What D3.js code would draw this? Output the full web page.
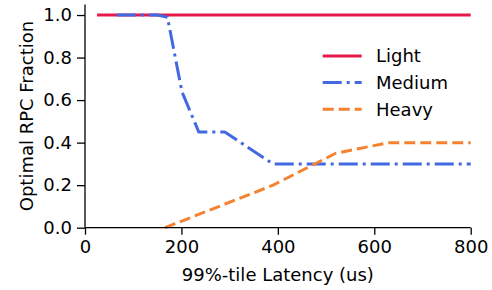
<!DOCTYPE html>
<html>
<head>
<meta charset="utf-8">
<script src="https://cdn.jsdelivr.net/npm/d3@7"></script>
<style>
  body { margin: 0; background: #fff; }
  text { font-family: "DejaVu Sans", sans-serif; fill: #000; }
</style>
</head>
<body>
<svg id="chart" width="492" height="290"></svg>
<script>
// latency (us) vs optimal RPC fraction
var lightX = [25, 800];
var lightY = [1.0, 1.0];
var mediumX = [66, 150, 171, 201, 236, 290, 390, 800];
var mediumY = [1.0, 1.0, 0.99, 0.64, 0.45, 0.45, 0.30, 0.30];
var heavyX = [166, 390, 520, 630, 800];
var heavyY = [0.0, 0.2, 0.35, 0.40, 0.40];
var xTicks = [0, 200, 400, 600, 800];
var yTicks = [0.0, 0.2, 0.4, 0.6, 0.8, 1.0];

var series = [
    { name: "Light", xs: lightX, ys: lightY, color: "#e6194b", dash: null },
    { name: "Medium", xs: mediumX, ys: mediumY, color: "#4169e1", dash: "19,5,3,5" },
    { name: "Heavy", xs: heavyX, ys: heavyY, color: "#f58231", dash: "11,5" }
];

var margin = { left: 85, right: 21.3, top: 4.4, bottom: 62.3 };
var width = 492, height = 290;
var svg = d3.select("#chart");

var x = d3.scaleLinear().domain([0, 800]).range([margin.left, width - margin.right]);
var y = d3.scaleLinear().domain([0, 1.05]).range([height - margin.bottom, margin.top]);

var fontSize = 18;

// lines first
var line = d3.line().x(d => x(d[0])).y(d => y(d[1]));
var gLines = svg.append("g");
series.forEach(s => {
    gLines.append("path")
        .datum(d3.zip(s.xs, s.ys))
        .attr("d", line)
        .attr("fill", "none")
        .attr("stroke", s.color)
        .attr("stroke-width", 3)
        .attr("stroke-dasharray", s.dash)
        .attr("stroke-linejoin", "round");
});

// axes (left + bottom spines only)
var xAxis = svg.append("g")
    .attr("transform", `translate(0,${y(0)})`)
    .call(d3.axisBottom(x).tickValues(xTicks).tickFormat(d3.format("d")).tickSize(7).tickPadding(6));
var yAxis = svg.append("g")
    .attr("transform", `translate(${x(0)},0)`)
    .call(d3.axisLeft(y).tickValues(yTicks).tickFormat(d3.format(".1f")).tickSize(8).tickPadding(5));

[xAxis, yAxis].forEach(a => {
    a.selectAll("path.domain").attr("stroke", "#000").attr("stroke-width", 1.3);
    a.selectAll(".tick line").attr("stroke", "#000").attr("stroke-width", 1.3);
    a.selectAll(".tick text")
        .attr("font-family", "DejaVu Sans")
        .attr("font-size", fontSize)
        .attr("fill", "#000");
});
// remove outer tick caps on domain paths
xAxis.select("path.domain").attr("d", `M${x(0)},0H${x(800)}`);
yAxis.select("path.domain").attr("d", `M0,${y(0)}V${y(1.05)}`);

// axis labels
svg.append("text")
    .attr("x", (x(0) + x(800)) / 2)
    .attr("y", 281)
    .attr("text-anchor", "middle")
    .attr("font-size", fontSize)
    .text("99%-tile Latency (us)");

svg.append("text")
    .attr("transform", `translate(33,${(y(0) + y(1.05)) / 2}) rotate(-90)`)
    .attr("text-anchor", "middle")
    .attr("font-size", fontSize)
    .text("Optimal RPC Fraction");

// legend, no frame
var legend = svg.append("g");
series.forEach((s, i) => {
    var ly = 56 + i * 26.6;
    legend.append("line")
        .attr("x1", 322.7).attr("x2", 361.7)
        .attr("y1", ly).attr("y2", ly)
        .attr("stroke", s.color)
        .attr("stroke-width", 3)
        .attr("stroke-dasharray", s.dash);
    legend.append("text")
        .attr("x", 376)
        .attr("y", ly)
        .attr("dy", "0.36em")
        .attr("font-size", fontSize)
        .text(s.name);
});
</script>
</body>
</html>
